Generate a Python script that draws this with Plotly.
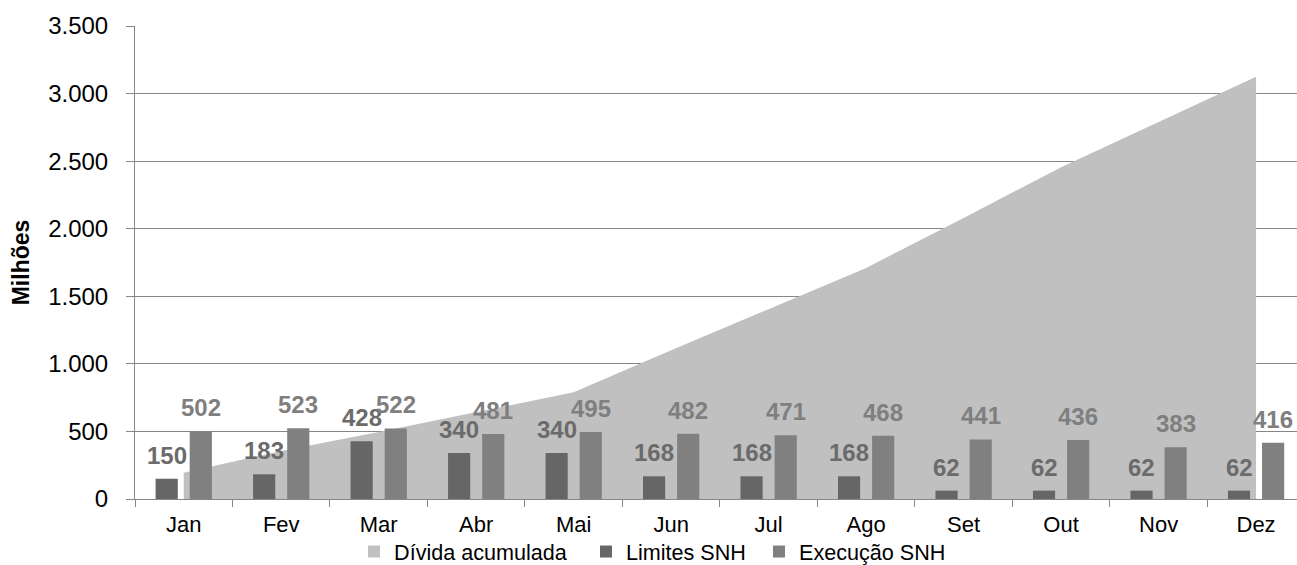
import plotly.graph_objects as go

months = ["Jan", "Fev", "Mar", "Abr", "Mai", "Jun", "Jul", "Ago", "Set", "Out", "Nov", "Dez"]
divida_acumulada = [195, 355, 495, 645, 790, 1100, 1405, 1710, 2080, 2455, 2790, 3125]
limites_snh = [150, 183, 428, 340, 340, 168, 168, 168, 62, 62, 62, 62]
execucao_snh = [502, 523, 522, 481, 495, 482, 471, 468, 441, 436, 383, 416]

FONT = "Liberation Sans, Arial, sans-serif"
C_AREA = "#C0C0C0"
C_LIM = "#666666"
C_EXE = "#808080"
C_GRID = "#868686"

fig = go.Figure()

# area (drawn on the base subplot so that the bars, on an overlaid axis, sit above it)
fig.add_trace(go.Scatter(
    x=months, y=divida_acumulada, name="Dívida acumulada",
    mode="lines", fill="tozeroy", fillcolor=C_AREA,
    line=dict(width=0, color=C_AREA), xaxis="x", yaxis="y",
    legendgroup="div", showlegend=False,
))
# square legend swatch for the area series
fig.add_trace(go.Bar(
    x=[months[0]], y=[None], name="Dívida acumulada",
    marker=dict(color=C_AREA, line=dict(width=0)), xaxis="x", yaxis="y",
    legendgroup="div", showlegend=True, legend="legend",
))
fig.add_trace(go.Bar(
    x=months, y=limites_snh, name="Limites SNH",
    marker=dict(color=C_LIM, line=dict(width=0)), xaxis="x", yaxis="y2",
    legend="legend2",
))
fig.add_trace(go.Bar(
    x=months, y=execucao_snh, name="Execução SNH",
    marker=dict(color=C_EXE, line=dict(width=0)), xaxis="x", yaxis="y2",
    legend="legend3",
))

annotations = []
for m, v in zip(months, limites_snh):
    annotations.append(dict(x=m, y=v, xref="x", yref="y", text=str(v),
                            showarrow=False, xshift=-17, yshift=8, yanchor="bottom",
                            font=dict(family=FONT, size=24, color="#6B6B6B", weight="bold")))
for m, v in zip(months, execucao_snh):
    annotations.append(dict(x=m, y=v, xref="x", yref="y", text=str(v),
                            showarrow=False, xshift=17, yshift=8, yanchor="bottom",
                            font=dict(family=FONT, size=24, color="#7F7F7F", weight="bold")))

def leg(xpos):
    return dict(orientation="h", x=xpos, xanchor="left", y=-0.112, yanchor="middle",
                font=dict(family=FONT, size=21.6, color="black"),
                itemwidth=30, bgcolor="rgba(0,0,0,0)")

fig.update_layout(
    width=1297, height=565,
    margin=dict(l=135, r=0, t=26, b=66, autoexpand=False),
    paper_bgcolor="white", plot_bgcolor="white",
    separators=",.",
    font=dict(family=FONT, size=22, color="black"),
    barmode="group", bargap=0.30, bargroupgap=0.35,
    showlegend=True,
    legend=leg(0.1885),
    legend2=leg(0.3881),
    legend3=leg(0.5370),
    xaxis=dict(type="category", categoryorder="array", categoryarray=months,
               range=[-0.5, 11.42], tickson="boundaries", ticks="outside", ticklen=7,
               tickcolor=C_GRID, showline=True, linecolor=C_GRID, linewidth=1,
               showgrid=False, zeroline=False, automargin=False, ticklabelstandoff=6,
               tickfont=dict(family=FONT, size=22, color="black")),
    yaxis=dict(range=[0, 3500], dtick=500, tickformat=",d", ticks="outside", ticklen=8,
               tickcolor=C_GRID, showline=True, linecolor=C_GRID, linewidth=1,
               showgrid=True, gridcolor=C_GRID, gridwidth=1, zeroline=False,
               automargin=False, ticklabelstandoff=13,
               tickfont=dict(family=FONT, size=24, color="black"),
               title=dict(text="<b>Milhões</b>", standoff=12,
                          font=dict(family=FONT, size=23, color="black"))),
    yaxis2=dict(range=[0, 3500], overlaying="y", visible=False, showgrid=False),
    annotations=annotations,
)

fig.write_html("out.html", config={"displayModeBar": False},
               post_script="document.body.style.margin='0px';document.body.style.overflow='hidden';")
